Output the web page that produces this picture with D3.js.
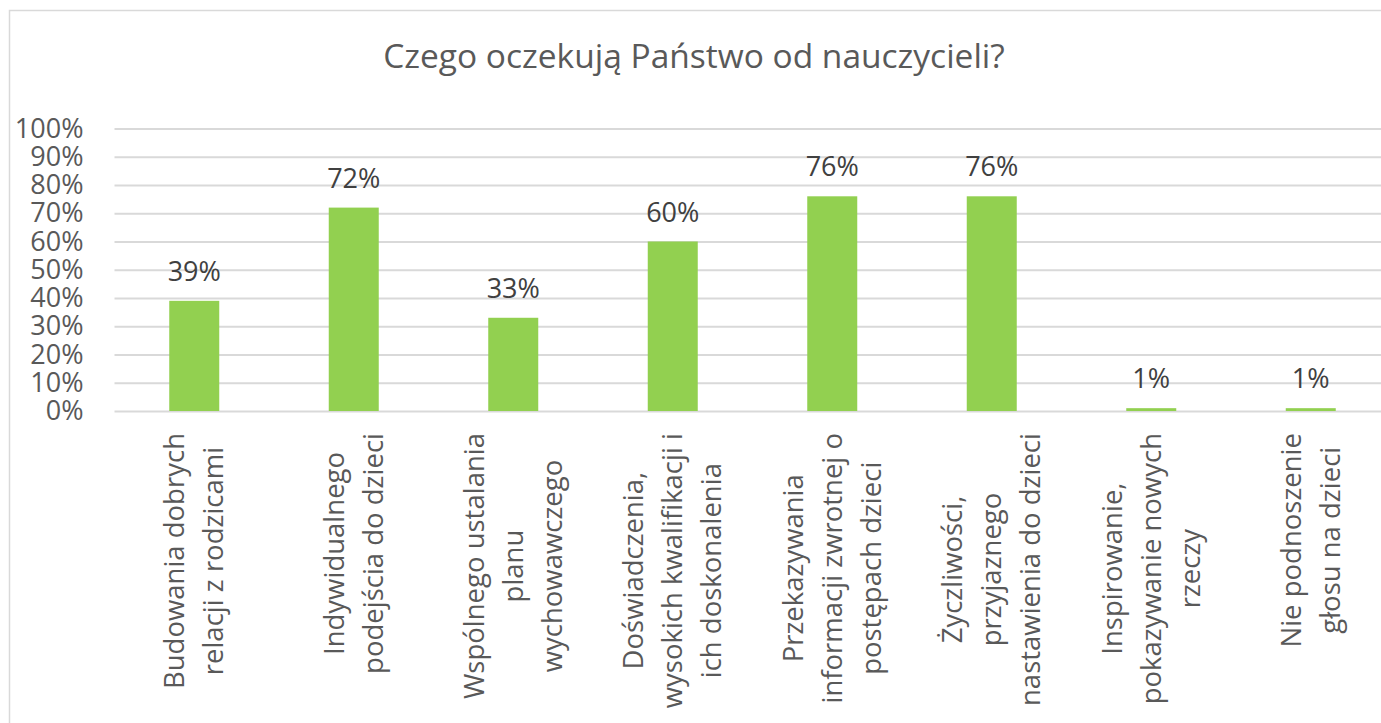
<!DOCTYPE html>
<html>
<head>
<meta charset="utf-8">
<script src="https://cdn.jsdelivr.net/npm/d3@7"></script>
<style>
  html, body { margin: 0; padding: 0; background: #fff; }
  svg { display: block; font-family: 'Open Sans', sans-serif; }
</style>
</head>
<body>
<div id="chart"></div>
<script>
const WIDTH = 1381
const HEIGHT = 723

const TITLE = 'Czego oczekują Państwo od nauczycieli?'

// each category is split into the lines used in the picture
const categories = [
    ['Budowania dobrych', 'relacji z rodzicami'],
    ['Indywidualnego', 'podejścia do dzieci'],
    ['Wspólnego ustalania', 'planu', 'wychowawczego'],
    ['Doświadczenia,', 'wysokich kwalifikacji i', 'ich doskonalenia'],
    ['Przekazywania', 'informacji zwrotnej o', 'postępach dzieci'],
    ['Życzliwości,', 'przyjaznego', 'nastawienia do dzieci'],
    ['Inspirowanie,', 'pokazywanie nowych', 'rzeczy'],
    ['Nie podnoszenie', 'głosu na dzieci']
]
const values = [0.39, 0.72, 0.33, 0.60, 0.76, 0.76, 0.01, 0.01]
const yTicks = [0, 0.1, 0.2, 0.3, 0.4, 0.5, 0.6, 0.7, 0.8, 0.9, 1]

const BAR_COLOR = '#92d050'
const GRID_COLOR = '#d9d9d9'
const TEXT_COLOR = '#595959'
const LABEL_COLOR = '#404040'
const LINE_H = 39

const svg = d3.select('#chart')
    .append('svg')
    .attr('width', WIDTH)
    .attr('height', HEIGHT)

// chart border (runs off the right and bottom edges in the picture)
svg.append('rect')
    .attr('x', 9.5)
    .attr('y', 10.5)
    .attr('width', 1420)
    .attr('height', 800)
    .style('fill', 'none')
    .style('stroke', GRID_COLOR)
    .style('stroke-width', 1.5)

const xscale = d3.scaleBand()
    .domain(d3.range(categories.length))
    .range([114.5, 1390.5])
    .paddingInner(0.6865)
    .paddingOuter(0.34325)

const yscale = d3.scaleLinear()
    .domain([0, 1])
    .range([411, 128.5])

svg.append('text')
    .attr('x', 694)
    .attr('y', 68)
    .text(TITLE)
    .style('text-anchor', 'middle')
    .style('font-size', '33.5px')
    .style('fill', TEXT_COLOR)

// gridlines + y labels
const yAxis = svg.append('g')
    .attr('transform', 'translate(114.5,0)')
    .call(d3.axisLeft(yscale)
        .tickValues(yTicks)
        .tickFormat(d3.format('.0%'))
        .tickSize(-(1390.5 - 114.5))
        .tickPadding(31))
yAxis.select('.domain').remove()
yAxis.selectAll('.tick line')
    .style('stroke', GRID_COLOR)
    .style('stroke-width', 2)
yAxis.selectAll('.tick text')
    .style('font-family', "'Open Sans', sans-serif")
    .style('font-size', '27px')
    .style('fill', TEXT_COLOR)

svg.selectAll('.bar')
    .data(values)
    .enter()
    .append('rect')
    .attr('class', 'bar')
    .attr('x', (d, i) => xscale(i))
    .attr('y', d => yscale(d))
    .attr('width', xscale.bandwidth())
    .attr('height', d => yscale(0) - yscale(d))
    .style('fill', BAR_COLOR)

svg.selectAll('.value')
    .data(values)
    .enter()
    .append('text')
    .attr('class', 'value')
    .attr('x', (d, i) => xscale(i) + xscale.bandwidth() / 2)
    .attr('y', d => yscale(d) - 20)
    .text(d3.format('.0%'))
    .style('text-anchor', 'middle')
    .style('font-size', '27px')
    .style('fill', LABEL_COLOR)

// category labels, rotated, block starts just under the axis
const catGroup = svg.selectAll('.cat')
    .data(categories)
    .enter()
    .append('g')
    .attr('class', 'cat')

catGroup.each(function (lines, i) {
    const g = d3.select(this)
    const cx = xscale(i) + xscale.bandwidth() / 2
    const texts = g.selectAll('text')
        .data(lines)
        .enter()
        .append('text')
        .text(d => d)
        .style('text-anchor', 'middle')
        .style('font-size', '27.5px')
        .style('fill', TEXT_COLOR)
    let maxLen = 0
    texts.each(function () { maxLen = Math.max(maxLen, this.getComputedTextLength()) })
    const cy = 433 + maxLen / 2
    texts.attr('transform', (d, j) => {
        const x = cx + (j - (lines.length - 1) / 2) * LINE_H
        return `translate(${x},${cy}) rotate(-90)`
    })
        .attr('dy', '0.35em')
})
</script>
</body>
</html>
